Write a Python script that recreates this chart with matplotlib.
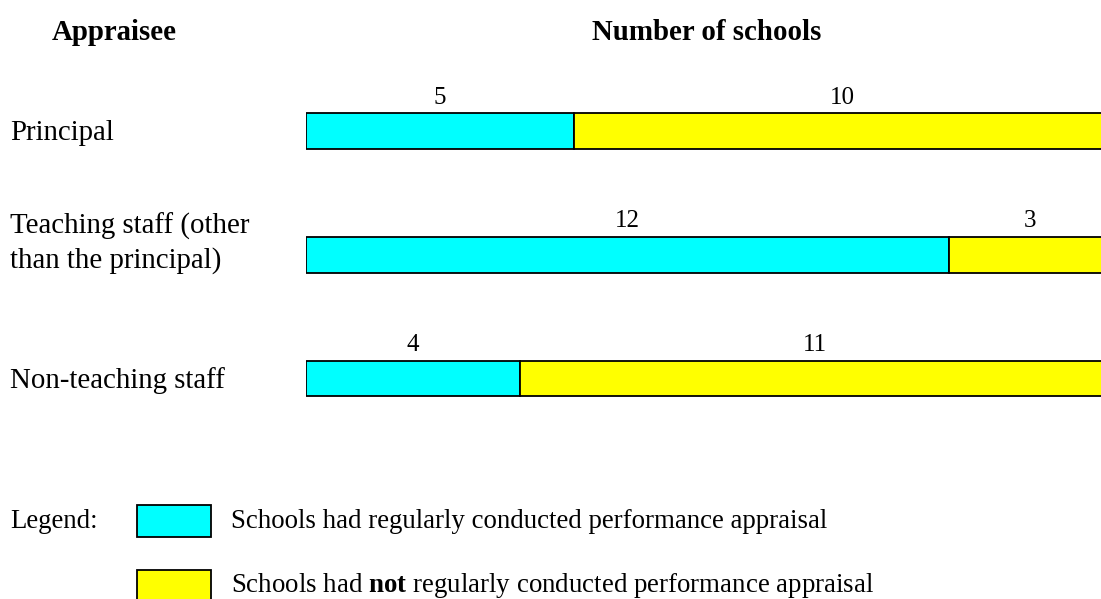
import matplotlib.pyplot as plt
from matplotlib.patches import Rectangle
import numpy as np

# Data
appraisees = ['Principal', 'Teaching staff (other\nthan the principal)', 'Non-teaching staff']
regular = [5, 12, 4]
not_regular = [10, 3, 11]
legend_labels = ['Schools had regularly conducted performance appraisal',
                 'Schools had $\\mathbf{not}$ regularly conducted performance appraisal']

cyan = '#00FFFF'
yellow = '#FFFF00'

plt.rcParams['font.family'] = 'Liberation Serif'
plt.rcParams['mathtext.fontset'] = 'custom'
plt.rcParams['mathtext.bf'] = 'Liberation Serif:bold'
plt.rcParams['mathtext.rm'] = 'Liberation Serif'
fs_main = 20.8   # headers and row labels
fs_num = 18      # value labels
fs_leg = 19.4    # legend

W, H = 1101, 599
fig = plt.figure(figsize=(W / 100, H / 100), dpi=100)

# bars axes: x=0 at 306 px, 15 schools span ~804 px (runs past the right edge)
left_px, span_px = 306, 804
ax = fig.add_axes([left_px / W, 0, span_px / W, 1])
ax.set_xlim(0, 15)
# row 0 centred at 131 px, rows 123.75 px apart
row0, step = 131, 123.75
ax.set_ylim((H - row0) / step, -row0 / step)
ax.axis('off')

y = np.arange(len(appraisees))
bh = 0.29
ax.barh(y, regular, height=bh, color=cyan, edgecolor='black', linewidth=1.3)
ax.barh(y, not_regular, left=regular, height=bh, color=yellow, edgecolor='black', linewidth=1.3)

for i in range(len(appraisees)):
    ax.text(regular[i] / 2, y[i] - 0.27, str(regular[i]), ha='center', va='center', fontsize=fs_num)
    ax.text(regular[i] + not_regular[i] / 2, y[i] - 0.27, str(not_regular[i]),
            ha='center', va='center', fontsize=fs_num)

# row labels
trans = ax.get_yaxis_transform()
for i, name in enumerate(appraisees):
    off = 0.02 if '\n' not in name else -0.09
    ax.text(-296 / span_px, y[i] + off, name, transform=trans, ha='left', va='center',
            fontsize=fs_main, linespacing=1.36)

# headers
fig.text(114 / W, 1 - 33 / H, 'Appraisee', ha='center', va='center', fontsize=fs_main,
         fontweight='bold')
fig.text(707 / W, 1 - 32 / H, 'Number of schools', ha='center', va='center', fontsize=fs_main,
         fontweight='bold')

# legend
fig.text(10 / W, 1 - 521 / H, 'Legend:', ha='left', va='center', fontsize=fs_leg)
for k, (col, lab) in enumerate(zip([cyan, yellow], legend_labels)):
    top = 505 + k * 65
    fig.add_artist(Rectangle((137 / W, 1 - (top + 32) / H), 74 / W, 32 / H,
                             transform=fig.transFigure, facecolor=col, edgecolor='black',
                             linewidth=1.3))
    fig.text(231 / W, 1 - (top + 17 - 2 * k) / H, lab, ha='left', va='center', fontsize=fs_leg)

fig.savefig('out.png', dpi=100)
